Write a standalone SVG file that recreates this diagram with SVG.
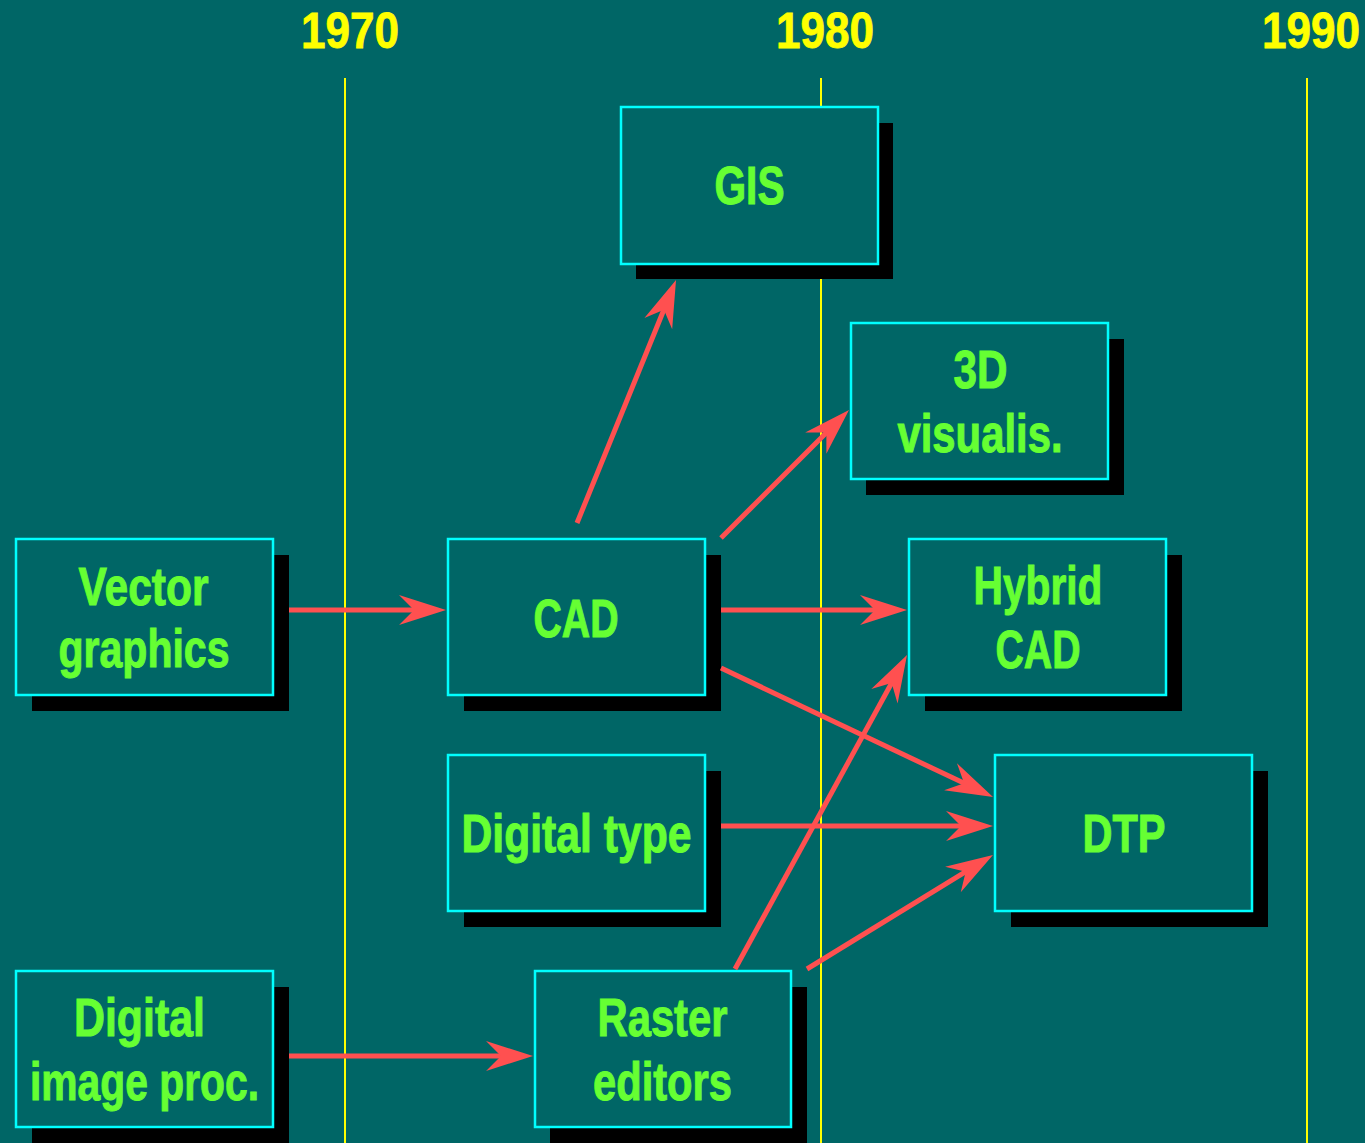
<svg xmlns="http://www.w3.org/2000/svg" width="1365" height="1143" viewBox="0 0 1365 1143">
<style>
.bg{fill:#006666}
.yl{stroke:#FFFF00;stroke-width:2}
.yr{fill:#FFFF00;stroke:#FFFF00;stroke-width:0.8;font-family:"Liberation Sans Narrow","Liberation Sans",sans-serif;font-weight:bold;font-size:50px;text-anchor:middle}
.sh{fill:#000000}
.bx{fill:#006666;stroke:#00FFFF;stroke-width:2.5}
.t{fill:#66FF33;stroke:#66FF33;stroke-width:1;font-family:"Liberation Sans Narrow","Liberation Sans",sans-serif;font-weight:bold;font-size:53px;text-anchor:middle}
.c{stroke:#FF5050;stroke-width:5;fill:none;marker-end:url(#ah)}
</style>
<defs>
<marker id="ah" markerUnits="userSpaceOnUse" viewBox="-50 -17 52 34" refX="-30" refY="0" markerWidth="52" markerHeight="34" orient="auto">
<path d="M0,0 L-47,-15 L-32,0 L-47,15 Z" fill="#FF5050"/>
</marker>
</defs>
<rect class="bg" x="0" y="0" width="1365" height="1143"/>
<g id="timeline">
<line class="yl" x1="345" y1="78" x2="345" y2="1143"/>
<line class="yl" x1="821" y1="78" x2="821" y2="1143"/>
<line class="yl" x1="1307" y1="78" x2="1307" y2="1143"/>
<text class="yr" x="350" y="48" textLength="98" lengthAdjust="spacingAndGlyphs">1970</text>
<text class="yr" x="825" y="48" textLength="98" lengthAdjust="spacingAndGlyphs">1980</text>
<text class="yr" x="1311" y="48" textLength="98" lengthAdjust="spacingAndGlyphs">1990</text>
</g>
<g id="gis">
<rect class="sh" x="636" y="123" width="257" height="156"/>
<rect class="bx" x="621" y="107" width="257" height="157"/>
<text class="t" x="749.5" y="204" textLength="70" lengthAdjust="spacingAndGlyphs">GIS</text>
</g>
<g id="visualis">
<rect class="sh" x="866" y="339" width="258" height="156"/>
<rect class="bx" x="851" y="323" width="257" height="156"/>
<text class="t" x="980.5" y="388" textLength="54" lengthAdjust="spacingAndGlyphs">3D</text>
<text class="t" x="980" y="452" textLength="165" lengthAdjust="spacingAndGlyphs">visualis.</text>
</g>
<g id="vector">
<rect class="sh" x="32" y="555" width="257" height="156"/>
<rect class="bx" x="16" y="539" width="257" height="156"/>
<text class="t" x="143.5" y="605" textLength="130" lengthAdjust="spacingAndGlyphs">Vector</text>
<text class="t" x="144" y="667" textLength="171" lengthAdjust="spacingAndGlyphs">graphics</text>
</g>
<g id="cad">
<rect class="sh" x="464" y="555" width="257" height="156"/>
<rect class="bx" x="448" y="539" width="257" height="156"/>
<text class="t" x="576" y="637" textLength="85" lengthAdjust="spacingAndGlyphs">CAD</text>
</g>
<g id="hybrid">
<rect class="sh" x="925" y="555" width="257" height="156"/>
<rect class="bx" x="909" y="539" width="257" height="156"/>
<text class="t" x="1038" y="604" textLength="129" lengthAdjust="spacingAndGlyphs">Hybrid</text>
<text class="t" x="1038" y="668" textLength="85" lengthAdjust="spacingAndGlyphs">CAD</text>
</g>
<g id="digitaltype">
<rect class="sh" x="464" y="771" width="257" height="156"/>
<rect class="bx" x="448" y="755" width="257" height="156"/>
<text class="t" x="576.5" y="852" textLength="230" lengthAdjust="spacingAndGlyphs">Digital type</text>
</g>
<g id="dtp">
<rect class="sh" x="1011" y="771" width="257" height="156"/>
<rect class="bx" x="995" y="755" width="257" height="156"/>
<text class="t" x="1124" y="852" textLength="83" lengthAdjust="spacingAndGlyphs">DTP</text>
</g>
<g id="imageproc">
<rect class="sh" x="32" y="987" width="257" height="156"/>
<rect class="bx" x="16" y="971" width="257" height="156"/>
<text class="t" x="139.5" y="1036" textLength="131" lengthAdjust="spacingAndGlyphs">Digital</text>
<text class="t" x="144.5" y="1100" textLength="229" lengthAdjust="spacingAndGlyphs">image proc.</text>
</g>
<g id="raster">
<rect class="sh" x="550" y="987" width="257" height="156"/>
<rect class="bx" x="535" y="971" width="256" height="156"/>
<text class="t" x="662.5" y="1036" textLength="130" lengthAdjust="spacingAndGlyphs">Raster</text>
<text class="t" x="662.5" y="1100" textLength="139" lengthAdjust="spacingAndGlyphs">editors</text>
</g>
<g id="connectors">
<line class="c" x1="289" y1="610" x2="416" y2="610"/>
<line class="c" x1="577" y1="523" x2="664.7" y2="307.8"/>
<line class="c" x1="721" y1="538" x2="827.8" y2="431.2"/>
<line class="c" x1="721" y1="610" x2="877" y2="610"/>
<line class="c" x1="721" y1="668" x2="965.9" y2="784.1"/>
<line class="c" x1="721" y1="826" x2="963" y2="826"/>
<line class="c" x1="735" y1="969" x2="892.6" y2="681.3"/>
<line class="c" x1="807" y1="969" x2="967.4" y2="870.7"/>
<line class="c" x1="289" y1="1056" x2="503" y2="1056"/>
</g>
</svg>
